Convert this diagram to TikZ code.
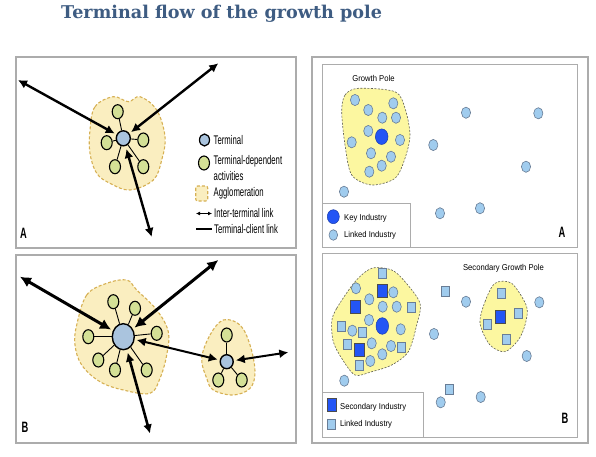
\documentclass[tikz,border=0pt]{standalone}
\usepackage{fontspec}
\setmainfont{Liberation Serif}
\newfontfamily\titlefont{DejaVu Serif}
\newfontfamily\cond[FakeStretch=0.62]{Liberation Sans}
\newfontfamily\lab[FakeStretch=0.9]{Liberation Sans}
\usetikzlibrary{shapes.geometric,arrows.meta}
\definecolor{titlec}{RGB}{62,92,130}
\definecolor{aggfill}{RGB}{250,238,192}
\definecolor{aggline}{RGB}{214,176,84}
\definecolor{greenc}{RGB}{212,224,150}
\definecolor{termc}{RGB}{170,196,222}
\definecolor{polefill}{RGB}{252,247,160}
\definecolor{poleline}{RGB}{95,95,85}
\definecolor{dotc}{RGB}{160,204,238}
\definecolor{dotline}{RGB}{105,125,150}
\definecolor{keyc}{RGB}{35,85,245}
\definecolor{framec}{RGB}{172,172,172}
\tikzset{
  frame/.style={draw=framec,line width=1.3pt},
  innerframe/.style={draw=framec,line width=0.9pt},
  agg/.style={fill=aggfill,draw=aggline,line width=1.1pt,dash pattern=on 3pt off 2pt},
  pole/.style={fill=polefill,draw=poleline,line width=0.6pt,dash pattern=on 2pt off 1.5pt},
  grn/.style={ellipse,draw=black,line width=1.1pt,fill=greenc,minimum width=11pt,minimum height=14pt,inner sep=0pt},
  term/.style={ellipse,draw=black,line width=1.4pt,fill=termc,inner sep=0pt},
  spoke/.style={line width=0.9pt},
  bigarrow/.style={line width=2.4pt,{Latex[length=9pt,width=9pt]}-{Latex[length=9pt,width=9pt]}},
  bigarrowB/.style={line width=3pt,{Latex[length=11pt,width=11pt]}-{Latex[length=11pt,width=11pt]}},
  dot/.style={fill=dotc,draw=dotline,line width=0.6pt},
  lsq/.style={fill=dotc,draw=dotline,line width=0.7pt},
  bsq/.style={fill=keyc,draw=black!70,line width=0.7pt},
  legtxt/.style={font=\cond\fontsize{12.5}{12.5}\selectfont,anchor=west,inner sep=0pt},
  rtxt/.style={font=\lab\fontsize{8.5}{8.5}\selectfont,inner sep=0pt},
  letter/.style={font=\cond\bfseries\fontsize{15}{15}\selectfont,inner sep=0pt}
}
\begin{document}
\begin{tikzpicture}[x=1pt,y=-1pt]
\useasboundingbox (0,0) rectangle (596,457);
\fill[white] (0,0) rectangle (596,457);
\node[font=\titlefont\bfseries\fontsize{17.6}{20}\selectfont,text=titlec,anchor=west,inner sep=0pt] (title) at (61,13.5) {Terminal flow of the growth pole};

% ---------- Left panel A ----------
\draw[frame] (16,57) rectangle (296,248);
\draw[agg] plot[smooth cycle,tension=0.6] coordinates {(90,130) (95,106.7) (113.3,96.7) (128.3,101.7) (140,96.7) (156.7,110) (165,136.7) (161.7,160) (153.3,180) (130,190) (110,183.3) (96.7,173.3) (90,153.3)};
\node[term,minimum width=14pt,minimum height=15pt] (tA) at (123.3,138.3) {};
\node[grn] (gA1) at (117.7,111.7) {};
\node[grn] (gA2) at (106.7,142.7) {};
\node[grn] (gA3) at (143.3,140) {};
\node[grn] (gA4) at (115,166.7) {};
\node[grn] (gA5) at (143.3,166.7) {};
\foreach \g in {gA1,gA2,gA3,gA4,gA5} \draw[spoke] (tA) -- (\g);
\coordinate (aA1) at (18,80);
\coordinate (aA2) at (218.3,63.3);
\coordinate (aA3) at (151.7,237);
\draw[bigarrow,shorten <=2pt] (tA) -- (aA1);
\draw[bigarrow,shorten <=2pt] (tA) -- (aA2);
\draw[bigarrow,shorten <=3pt] (tA) -- (aA3);
% legend
\node[term,line width=1.2pt,minimum width=10pt,minimum height=12pt] (lgT) at (204.5,140) {};
\node[legtxt] (lgTt) at (213.5,140) {Terminal};
\node[grn,minimum width=11pt,minimum height=14pt] (lgG) at (204,163) {};
\node[legtxt] (lgGt) at (213.5,161) {Terminal-dependent};
\node[legtxt] (lgGt2) at (213.5,176.5) {activities};
\draw[agg,rounded corners=2pt] (195.7,186) rectangle (207.7,201);
\node[legtxt] (lgAt) at (213.5,193.5) {Agglomeration};
\coordinate (lgI1) at (196,213.5);
\coordinate (lgI2) at (212,213.5);
\draw[line width=1.1pt,{Latex[length=4pt,width=4pt]}-{Latex[length=4pt,width=4pt]}] (lgI1) -- (lgI2);
\node[legtxt] (lgIt) at (214,213.5) {Inter-terminal link};
\coordinate (lgC1) at (196,229);
\coordinate (lgC2) at (212,229);
\draw[line width=1.1pt] (lgC1) -- (lgC2);
\node[legtxt] (lgCt) at (214,229) {Terminal-client link};
\node[letter] (lA) at (23.5,233) {A};

% ---------- Left panel B ----------
\draw[frame] (16,255) rectangle (296,443);
\draw[agg] plot[smooth cycle,tension=0.6] coordinates {(76.7,325) (86.7,295) (106.7,283.3) (126.7,280) (136.7,290) (156.7,310) (168.3,331.7) (166.7,355) (160,378.3) (150,393.3) (123.3,390) (100,381.7) (81.7,365) (75,345)};
\draw[agg] plot[smooth cycle,tension=0.6] coordinates {(201.7,358.3) (210,335) (223.3,320) (240,325) (250,345) (255,371.7) (250,388.3) (233.3,395) (213.3,390) (206.7,378.3)};
\node[term,minimum width=22pt,minimum height=26pt] (tB) at (123.3,336.7) {};
\node[grn] (gB1) at (113.3,301.7) {};
\node[grn] (gB2) at (135,308.3) {};
\node[grn] (gB3) at (88.3,336.7) {};
\node[grn] (gB4) at (156.7,333.3) {};
\node[grn] (gB5) at (98.3,360) {};
\node[grn] (gB6) at (115,370) {};
\node[grn] (gB7) at (146.7,370) {};
\foreach \g in {gB1,gB2,gB3,gB4,gB5,gB6,gB7} \draw[spoke] (tB) -- (\g);
\node[term,minimum width=13pt,minimum height=14pt] (tB2) at (226.7,361.7) {};
\node[grn] (gC1) at (226.7,335) {};
\node[grn] (gC2) at (218.3,380) {};
\node[grn] (gC3) at (241.7,380) {};
\foreach \g in {gC1,gC2,gC3} \draw[spoke] (tB2) -- (\g);
\coordinate (aB1) at (20,276.7);
\coordinate (aB2) at (218.3,260);
\coordinate (aB3) at (150,433.5);
\coordinate (aB5) at (288.3,352.3);
\draw[bigarrowB,shorten <=2pt] (tB) -- (aB1);
\draw[bigarrowB,shorten <=2pt] (tB) -- (aB2);
\draw[bigarrow,line width=2.6pt,shorten <=3pt] (tB) -- (aB3);
\draw[bigarrow,line width=2pt,shorten <=2pt,shorten >=2pt] (tB) -- (tB2);
\draw[bigarrow,line width=2pt,shorten <=2pt] (tB2) -- (aB5);
\node[letter] (lB) at (25,427) {B};

% ---------- Right panels ----------
\draw[frame] (312,57) rectangle (588,443);
\draw[innerframe] (322,64) rectangle (577,247);
\draw[innerframe] (322,253) rectangle (577,437);

% Right A
\node[rtxt] (gpl) at (373.5,78.5) {Growth Pole};
\draw[pole] plot[smooth cycle,tension=0.5] coordinates {(341.7,111.7) (345,95) (358.3,88.3) (395,91.7) (405,108.3) (410,135) (405,158.3) (395,178.3) (371.7,185) (351.7,175) (345,145)};
\path[fill=keyc,draw=keyc!70!black,line width=0.5pt] (381.7,136.7) ellipse [x radius=6.3,y radius=7.8];
\foreach \x/\y in {355/100,368.3/110,393.3/103.3,382.3/117.7,396/117.7,368.3/131,351.7/142.3,400/140,371/153.3,391/156.7,381.7/165.7,369.3/171.7,466/112.7,538.3/113.3,433.3/145,526/166.7,344/191.7,480/208.3,440/213.3}
  \path[dot] (\x,\y) ellipse [x radius=4.6,y radius=5.6];
\draw[innerframe,fill=white] (322,203.3) rectangle (410,247);
\path[fill=keyc,draw=keyc!70!black,line width=0.5pt] (333.3,216.7) ellipse [x radius=6,y radius=7];
\node[rtxt,anchor=west] (kit) at (344,218) {Key Industry};
\path[dot] (333.3,235) ellipse [x radius=4.3,y radius=5.3];
\node[rtxt,anchor=west] (lit) at (344,235.5) {Linked Industry};
\node[letter] (rA) at (562,232) {A};

% Right B
\node[rtxt] (sgp) at (503.5,268.5) {Secondary Growth Pole};
\draw[pole] plot[smooth cycle,tension=0.5] coordinates {(331.7,321.7) (336.7,308.3) (355,281.7) (371.7,268.3) (391.7,270) (405,281.7) (420,303.3) (416.7,325) (408.3,351.7) (391.7,365) (371.7,371.7) (355,375) (341.7,358.3) (333.3,341.7)};
\draw[pole] plot[smooth cycle,tension=0.5] coordinates {(480,323.3) (485,301.7) (495,283.3) (511.7,283.3) (526.7,306.7) (525,325) (518.3,340) (505,351.7) (490,345)};
\path[fill=keyc,draw=keyc!70!black,line width=0.5pt] (382.3,326) ellipse [x radius=6.3,y radius=8.3];
\foreach \x/\y in {382.3/291,355/307.3,359/350,500/316.7}
  \path[bsq] (\x,\y) +(-5,-6.5) rectangle +(5,6.5);
\foreach \x/\y in {382.3/273.3,411.7/307.7,341/326,362.7/332.7,347.3/344,401.7/347.3,359.3/365,445/291.7,501.7/293.3,518.3/313.3,487.3/324,506/339.3,449.3/389.3}
  \path[lsq] (\x,\y) +(-4,-5) rectangle +(4,5);
\foreach \x/\y in {356/288.3,393.3/292.3,369.3/299.3,382.7/306.7,396.7/306.7,369/320,352.3/330.7,400.7/329.3,371.7/343.3,391/346,382.3/354.3,370.3/361,466/301.7,539.3/302.3,434/334,526.7/356,344.3/380.7,480.7/397,440.7/402.3}
  \path[dot] (\x,\y) ellipse [x radius=4.6,y radius=5.6];
\draw[innerframe,fill=white] (322,392.3) rectangle (423.3,437);
\path[bsq] (331.7,405) +(-4.5,-6.5) rectangle +(4.5,6.5);
\node[rtxt,anchor=west] (sit) at (340,407) {Secondary Industry};
\path[lsq] (331.7,424) +(-4,-5) rectangle +(4,5);
\node[rtxt,anchor=west] (lit2) at (340,424.5) {Linked Industry};
\node[letter] (rB) at (565,418.5) {B};
\end{tikzpicture}
\end{document}
